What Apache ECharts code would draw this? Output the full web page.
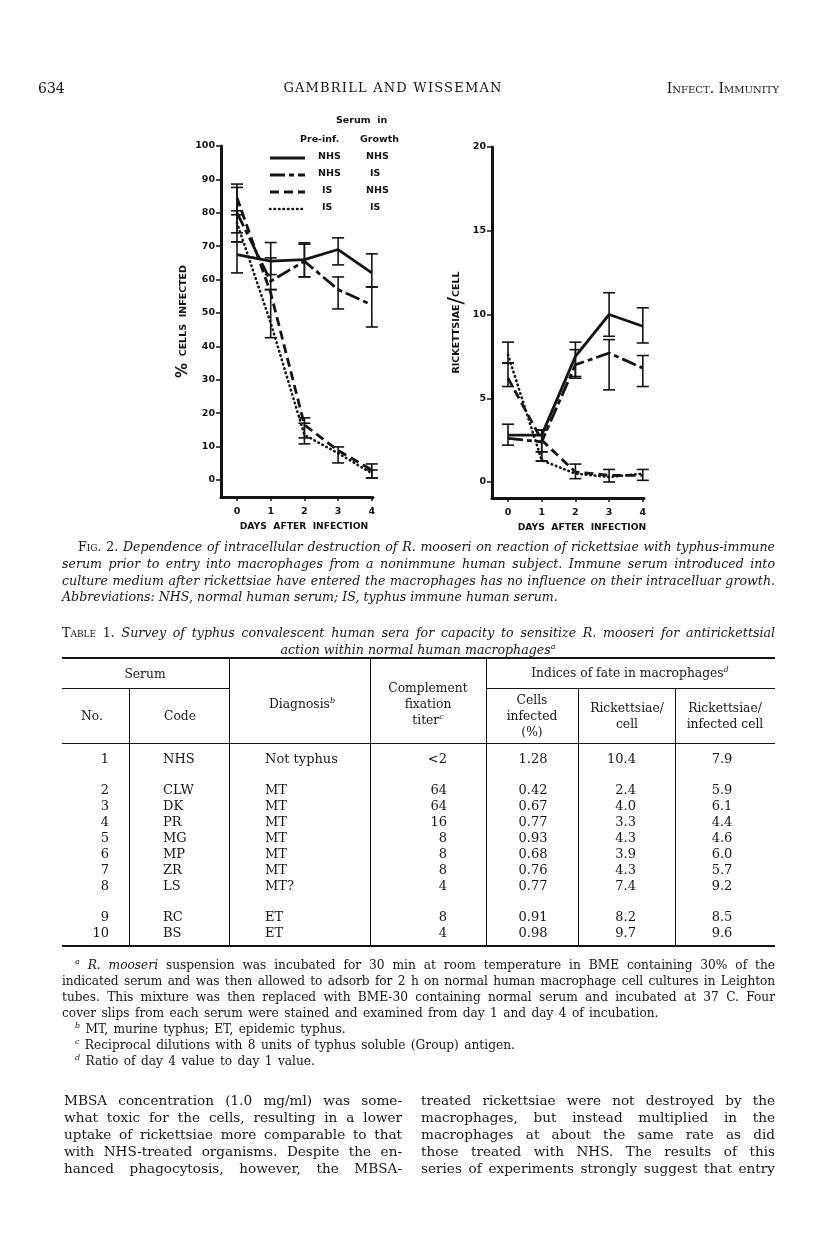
<!DOCTYPE html>
<html><head><meta charset="utf-8">
<script src="https://cdn.jsdelivr.net/npm/echarts@6/dist/echarts.min.js"></script>
<style>
html,body{margin:0;padding:0;background:#fff;}
#page{position:relative;width:816px;height:1245px;overflow:hidden;font-family:"DejaVu Serif",serif;color:#151515;}
#chart{position:absolute;left:0;top:0;width:816px;height:1245px;}
.t{position:absolute;white-space:nowrap;line-height:16px;}
.j{position:absolute;line-height:16px;text-align:justify;text-align-last:justify;white-space:normal;}
.sc{font-variant:small-caps;font-style:normal;}
i{font-style:italic;}
sup{font-size:8px;line-height:0;vertical-align:5px;font-style:italic;}
.rule{position:absolute;background:#151515;}
</style></head>
<body><div id="page">
<div id="chart"></div>
</div>
<script>
// ---------- data ----------
const days = [0, 1, 2, 3, 4];
const serumLegend = [
  ['NHS', 'NHS'],
  ['NHS', 'IS'],
  ['IS', 'NHS'],
  ['IS', 'IS']
];
// % cells infected (left panel)
const pctNHS_NHS = [67.5, 65.5, 66, 69, 62];
const pctNHS_IS  = [80, 59.5, 65.5, 57, 52.4];
const pctIS_NHS  = [84.5, 56, 16.5, 8.8, 3];
const pctIS_IS   = [77, 47, 13.5, 8, 2];
const pctErrNHS_NHS = [[62, 71.3], [61.5, 71.1], [60.8, 71], [64.4, 72.5], [57.8, 67.7]];
const pctErrNHS_IS  = [[71.3, 87.6], [57, 66.5], [60.8, 70.6], [51.2, 60.8], [45.8, 57.8]];
const pctErrIS_NHS  = [[79.4, 88.6], null, [12.6, 18.6], [5.1, 9.9], [0.6, 4.8]];
const pctErrIS_IS   = [[74, 80.6], [42.6, 57], [10.8, 17], null, [0.6, 3]];
// rickettsiae per cell (right panel)
const rpcNHS_NHS = [2.8, 2.8, 7.5, 10.0, 9.3];
const rpcNHS_IS  = [2.6, 2.4, 7.0, 7.7, 6.8];
const rpcIS_NHS  = [6.2, 2.5, 0.6, 0.4, 0.4];
const rpcIS_IS   = [7.6, 1.3, 0.5, 0.3, 0.5];
const rpcErrNHS_NHS = [[2.2, 3.45], [1.8, 3.1], [6.3, 8.35], [8.7, 11.3], [8.3, 10.4]];
const rpcErrNHS_IS  = [null, null, [6.2, 7.9], [5.5, 8.5], [5.7, 7.55]];
const rpcErrIS_NHS  = [[5.7, 7.1], [1.25, 3.1], [0.2, 1.07], [0, 0.75], [0.1, 0.75]];
const rpcErrIS_IS   = [[7.1, 8.35], [1.25, 1.8], null, null, null];
const pctTicks = [0, 10, 20, 30, 40, 50, 60, 70, 80, 90, 100];
const rpcTicks = [0, 5, 10, 15, 20];

// table data
const tblNo = ['1', '2', '3', '4', '5', '6', '7', '8', '9', '10'];
const tblCode = ['NHS', 'CLW', 'DK', 'PR', 'MG', 'MP', 'ZR', 'LS', 'RC', 'BS'];
const tblDiag = ['Not typhus', 'MT', 'MT', 'MT', 'MT', 'MT', 'MT', 'MT?', 'ET', 'ET'];
const tblTiter = ['<2', '64', '64', '16', '8', '8', '8', '4', '8', '4'];
const tblCells = ['1.28', '0.42', '0.67', '0.77', '0.93', '0.68', '0.76', '0.77', '0.91', '0.98'];
const tblRpc = ['10.4', '2.4', '4.0', '3.3', '4.3', '3.9', '4.3', '7.4', '8.2', '9.7'];
const tblRpic = ['7.9', '5.9', '6.1', '4.4', '4.6', '6.0', '5.7', '9.2', '8.5', '9.6'];

// ---------- page text ----------
const page = document.getElementById('page');
function txt(html, x, y, align, cls, style) {
  const d = document.createElement('div');
  d.className = cls || 't';
  d.innerHTML = html;
  d.style.top = (y - 8) + 'px';
  if (align === 'c') { d.style.left = (x - 200) + 'px'; d.style.width = '400px'; d.style.textAlign = 'center'; }
  else if (align === 'r') { d.style.right = (816 - x) + 'px'; d.style.textAlign = 'right'; }
  else d.style.left = x + 'px';
  if (style) d.style.cssText += style;
  page.appendChild(d);
  return d;
}
function jline(html, x, w, y, style) {
  const d = txt(html, x, y, 'l', 'j', 'width:' + w + 'px;' + (style || ''));
  return d;
}
function rule(x, y, w, h) {
  const d = document.createElement('div');
  d.className = 'rule';
  d.style.cssText = 'left:' + x + 'px;top:' + y + 'px;width:' + w + 'px;height:' + h + 'px;';
  page.appendChild(d);
}

// running header
txt('634', 38, 88, 'l', 't', 'font-size:14px;');
txt('GAMBRILL AND WISSEMAN', 393, 88, 'c', 't', 'font-size:13px;letter-spacing:1.2px;');
txt('<span class="sc">Infect. Immunity</span>', 779, 88, 'r', 't', 'font-size:14px;');

// figure caption
const capStyle = 'font-size:12.6px;font-style:italic;';
jline('<span class="sc">Fig. 2.</span> Dependence of intracellular destruction of R. mooseri on reaction of rickettsiae with typhus-immune', 78, 697, 547, capStyle);
jline('serum prior to entry into macrophages from a nonimmune human subject. Immune serum introduced into', 62, 713, 564, capStyle);
jline('culture medium after rickettsiae have entered the macrophages has no influence on their intracelluar growth.', 62, 713, 581, capStyle);
txt('Abbreviations: NHS, normal human serum; IS, typhus immune human serum.', 62, 597, 'l', 't', capStyle);

// table title
jline('<span class="sc">Table 1.</span> <i>Survey of typhus convalescent human sera for capacity to sensitize R. mooseri for antirickettsial</i>', 62, 713, 633, 'font-size:12.6px;');
txt('<i>action within normal human macrophages<sup>a</sup></i>', 418, 650, 'c', 't', 'font-size:12.6px;');

// table rules
rule(62, 657, 713, 2);
rule(62, 688, 167, 1);
rule(486, 688, 289, 1);
rule(62, 743, 713, 1);
rule(62, 945, 713, 2);
rule(129, 688, 1, 257);
rule(229, 658, 1, 287);
rule(370, 658, 1, 287);
rule(486, 658, 1, 287);
rule(578, 688, 1, 257);
rule(675, 688, 1, 257);

// table header
const hs = 'font-size:12.3px;';
txt('Serum', 145, 674, 'c', 't', hs);
txt('Indices of fate in macrophages<sup>d</sup>', 630, 673, 'c', 't', hs);
txt('No.', 92, 716, 'c', 't', hs);
txt('Code', 180, 716, 'c', 't', hs);
txt('Diagnosis<sup>b</sup>', 302, 704, 'c', 't', hs);
txt('Complement', 428, 688, 'c', 't', hs);
txt('fixation', 428, 704, 'c', 't', hs);
txt('titer<sup>c</sup>', 428, 720, 'c', 't', hs);
txt('Cells', 532, 700, 'c', 't', hs);
txt('infected', 532, 716, 'c', 't', hs);
txt('(%)', 532, 732, 'c', 't', hs);
txt('Rickettsiae/', 627, 708, 'c', 't', hs);
txt('cell', 627, 724, 'c', 't', hs);
txt('Rickettsiae/', 725, 708, 'c', 't', hs);
txt('infected cell', 725, 724, 'c', 't', hs);

// table body
const rowY = [759, 790, 806, 822, 838, 854, 870, 886, 917, 933];
const bs = 'font-size:13px;';
for (let i = 0; i < tblNo.length; i++) {
  const y = rowY[i];
  txt(tblNo[i], 109, y, 'r', 't', bs);
  txt(tblCode[i], 163, y, 'l', 't', bs);
  txt(tblDiag[i], 265, y, 'l', 't', bs);
  txt(tblTiter[i].replace('<', '&lt;'), 447, y, 'r', 't', bs);
  txt(tblCells[i], 533, y, 'c', 't', bs);
  txt(tblRpc[i], 636, y, 'r', 't', bs);
  txt(tblRpic[i], 722, y, 'c', 't', bs);
}

// footnotes
const fs = 'font-size:12.2px;';
jline('<sup>a</sup> <i>R. mooseri</i> suspension was incubated for 30 min at room temperature in BME containing 30% of the', 75, 700, 965, fs);
jline('indicated serum and was then allowed to adsorb for 2 h on normal human macrophage cell cultures in Leighton', 62, 713, 981, fs + 'letter-spacing:-0.1px;');
jline('tubes. This mixture was then replaced with BME-30 containing normal serum and incubated at 37 C. Four', 62, 713, 997, fs);
txt('cover slips from each serum were stained and examined from day 1 and day 4 of incubation.', 62, 1013, 'l', 't', fs + 'word-spacing:1.5px;');
txt('<sup>b</sup> MT, murine typhus; ET, epidemic typhus.', 75, 1029, 'l', 't', fs + 'word-spacing:1.5px;');
txt('<sup>c</sup> Reciprocal dilutions with 8 units of typhus soluble (Group) antigen.', 75, 1045, 'l', 't', fs + 'word-spacing:1.5px;');
txt('<sup>d</sup> Ratio of day 4 value to day 1 value.', 75, 1061, 'l', 't', fs + 'word-spacing:1.5px;');

// body text (two columns)
const bodyL = ['MBSA concentration (1.0 mg/ml) was some-', 'what toxic for the cells, resulting in a lower',
  'uptake of rickettsiae more comparable to that', 'with NHS-treated organisms. Despite the en-',
  'hanced phagocytosis, however, the MBSA-'];
const bodyR = ['treated rickettsiae were not destroyed by the', 'macrophages, but instead multiplied in the',
  'macrophages at about the same rate as did', 'those treated with NHS. The results of this',
  'series of experiments strongly suggest that entry'];
const bodyY = [1100, 1117, 1134, 1151, 1168];
const bts = 'font-size:13.6px;line-height:17px;';
for (let i = 0; i < bodyY.length; i++) {
  jline(bodyL[i], 64, 338, bodyY[i], bts);
  jline(bodyR[i], 421, 354, bodyY[i], bts);
}

// ---------- chart ----------
const INK = '#141414';
const styles = [
  { type: 'solid', width: 2.8, cap: 'butt' },
  { type: [15, 4, 5, 4], width: 2.8, cap: 'butt' },
  { type: [9, 5], width: 2.8, cap: 'butt' },
  { type: [0.5, 4], width: 2.6, cap: 'round' }
];
function errItem(params, api) {
  const x = api.value(0), lo = api.value(1), hi = api.value(2);
  const a = api.coord([x, hi]), b = api.coord([x, lo]);
  const w = 6;
  const st = { stroke: INK, lineWidth: 1.6 };
  return {
    type: 'group', children: [
      { type: 'line', shape: { x1: a[0], y1: a[1], x2: b[0], y2: b[1] }, style: st },
      { type: 'line', shape: { x1: a[0] - w, y1: a[1], x2: a[0] + w, y2: a[1] }, style: st },
      { type: 'line', shape: { x1: b[0] - w, y1: b[1], x2: b[0] + w, y2: b[1] }, style: st }
    ]
  };
}
function lineSeries(vals, k, idx) {
  return {
    type: 'line', xAxisIndex: idx, yAxisIndex: idx, symbol: 'none', silent: true,
    data: days.map((d, i) => [d, vals[i]]),
    lineStyle: Object.assign({ color: INK }, styles[k]), z: 3
  };
}
function errSeries(errs, idx) {
  const data = [];
  errs.forEach((e, i) => { if (e) data.push([days[i], e[0], e[1]]); });
  return { type: 'custom', xAxisIndex: idx, yAxisIndex: idx, data: data, renderItem: errItem, silent: true, z: 4 };
}
const axisFont = { fontFamily: 'DejaVu Sans', fontWeight: 'bold', fontSize: 9.5, color: INK };
function xAx(idx, pad) {
  return {
    type: 'value', gridIndex: idx, min: -0.475, max: 4.035,
    axisLine: { show: true, onZero: false, lineStyle: { color: INK, width: 3 } },
    axisTick: { show: true, customValues: days, length: 4, lineStyle: { color: INK, width: 1.5 } },
    axisLabel: Object.assign({ customValues: days, margin: 10 }, axisFont),
    splitLine: { show: false },
    name: 'DAYS  AFTER  INFECTION', nameLocation: 'middle', nameGap: 25,
    nameTextStyle: Object.assign({ padding: [0, 0, 0, pad] }, axisFont, { fontSize: 9.2 })
  };
}
function yAx(idx, min, max, ticks, name, gap, rich) {
  return {
    type: 'value', gridIndex: idx, min: min, max: max,
    axisLine: { show: true, onZero: false, lineStyle: { color: INK, width: 3 } },
    axisTick: { show: true, customValues: ticks, length: 5, lineStyle: { color: INK, width: 1.5 } },
    axisLabel: Object.assign({ customValues: ticks, margin: 6 }, axisFont),
    splitLine: { show: false },
    name: name, nameLocation: 'middle', nameGap: gap,
    nameTextStyle: Object.assign({}, axisFont, { fontSize: 9.5, rich: rich })
  };
}
const legendFont = 'bold 9.5px "DejaVu Sans"';
const graphics = [];
function gtext(s, x, y) {
  graphics.push({ type: 'text', x: x, y: y, style: { text: s, font: legendFont, fill: INK, verticalAlign: 'middle', align: 'left' } });
}
gtext('Serum  in', 336, 121);
gtext('Pre-inf.', 300, 140);
gtext('Growth', 360, 140);
const legY = [158, 175, 192, 209];
serumLegend.forEach((row, i) => {
  const s = styles[i];
  graphics.push({
    type: 'line', shape: { x1: 270, y1: legY[i], x2: 305, y2: legY[i] },
    style: { stroke: INK, lineWidth: s.width, lineDash: Array.isArray(s.type) ? s.type : null, lineCap: s.cap }
  });
  gtext(row[0], row[0] === 'IS' ? 322 : 318, legY[i] - 1);
  gtext(row[1], row[1] === 'IS' ? 370 : 366, legY[i] - 1);
});

const chart = echarts.init(document.getElementById('chart'), null, { renderer: 'canvas' });
chart.setOption({
  animation: false,
  backgroundColor: 'transparent',
  grid: [
    { left: 221, top: 146, width: 152, height: 351 },
    { left: 492, top: 147, width: 152, height: 351 }
  ],
  xAxis: [xAx(0, 14), xAx(1, 28)],
  yAxis: [
    yAx(0, -5.1, 100, pctTicks, '{p|%}  CELLS  INFECTED', 30, { p: { fontSize: 15, fontWeight: 'bold', fontFamily: 'DejaVu Sans', color: INK } }),
    yAx(1, -0.955, 20, rpcTicks, 'RICKETTSIAE{s|/}CELL', 24, { s: { fontSize: 22, fontWeight: 'normal', fontFamily: 'DejaVu Sans', color: INK } })
  ],
  graphic: graphics,
  series: [
    lineSeries(pctNHS_NHS, 0, 0), lineSeries(pctNHS_IS, 1, 0), lineSeries(pctIS_NHS, 2, 0), lineSeries(pctIS_IS, 3, 0),
    errSeries(pctErrNHS_NHS, 0), errSeries(pctErrNHS_IS, 0), errSeries(pctErrIS_NHS, 0), errSeries(pctErrIS_IS, 0),
    lineSeries(rpcNHS_NHS, 0, 1), lineSeries(rpcNHS_IS, 1, 1), lineSeries(rpcIS_NHS, 2, 1), lineSeries(rpcIS_IS, 3, 1),
    errSeries(rpcErrNHS_NHS, 1), errSeries(rpcErrNHS_IS, 1), errSeries(rpcErrIS_NHS, 1), errSeries(rpcErrIS_IS, 1)
  ]
});
</script>
</body></html>
